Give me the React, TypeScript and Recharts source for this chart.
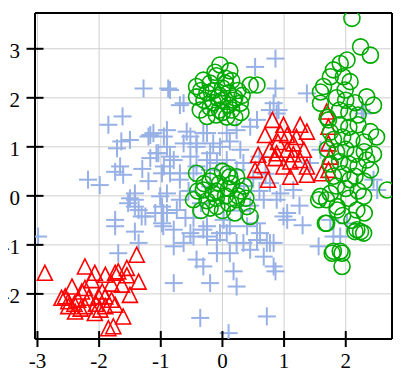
import React from 'react';
import { ScatterChart, Scatter, XAxis, YAxis, CartesianGrid, ReferenceLine } from 'recharts';

const xTicks = [-3, -2, -1, 0, 1, 2];
const yTicks = [-2, -1, 0, 1, 2, 3];
const xDomain: [number, number] = [-3.04, 2.75];
const yDomain: [number, number] = [-2.92, 3.73];

const bluePlus: [number, number][] = [
  [-1.85, 1.45], [-1.62, 1.62], [-1.64, 1.11], [-1.71, 0.97], [-1.66, 0.6], [-1.74, 0.49], [-1.61, 0.43],
  [-2.18, 0.33], [-1.99, 0.22], [-1.5, -0.05], [-1.42, -0.08], [-1.36, -0.29], [-1.2, 1.21], [-1.12, 1.28],
  [-1.17, 0.77], [-1.04, 0.87], [-0.98, 0.46], [-1.01, -0.01], [-0.98, -0.22], [-1.74, -0.49], [-1.31, -0.42],
  [-2.99, -0.83], [-1.53, -0.15], [-1.42, -0.22], [-1.25, -0.42], [-1.09, -0.35], [-1.74, -0.62], [-1.42, -0.73],
  [-1.69, -1.17], [-1.36, -0.96], [-0.98, -0.56], [-1.42, 0.05], [-0.96, -0.62], [-0.79, -1.03], [-0.63, -0.96],
  [-0.42, -1.3], [-0.31, -1.44], [-0.2, -1.78], [-0.79, -1.78], [0.18, -1.54], [0.23, -1.85], [-0.36, -2.49],
  [0.1, -2.8], [0.72, -2.46], [-0.52, -0.76], [-0.25, -0.83], [-0.04, -0.76], [-0.09, -1.17], [0.12, -1.17],
  [0.34, -0.96], [0.45, -1.1], [0.56, -0.9], [0.67, -1.24], [0.12, -0.62], [0.02, -0.49], [0.86, -1.54],
  [-0.9, -0.35], [-0.79, -0.69], [-0.47, -0.83], [-0.31, -0.69], [-0.09, -0.9], [0.07, -0.76], [0.23, -0.96],
  [0.61, -0.76], [0.77, -0.96], [0.56, -0.56], [0.4, -0.62], [-0.47, -0.45], [-0.25, -0.62],
  [0.99, -0.42], [1.05, -0.49], [0.72, -0.96], [0.83, -1.44], [1.56, -1.03], [1.91, -0.83], [1.75, -0.49],
  [0.67, -0.08], [0.88, -0.08], [2.51, 0.12], [-1.28, 2.19], [-0.88, 2.19], [-0.69, 1.85], [0.53, 2.63],
  [-1.17, 1.24], [-0.95, 1.21], [-0.52, 1.21], [-0.25, 1.28], [0.07, 1.28], [0.23, 1.34], [0.45, 1.41],
  [-1.07, 0.87], [-0.85, 0.8], [-0.2, 0.87], [-0.42, 1.0], [-0.04, 1.0], [-0.95, 0.6], [-0.69, 0.46],
  [-0.42, 0.6], [-0.09, 0.67], [-1.5, 1.14], [0.86, 2.8], [0.86, 2.19], [1.37, 2.09], [0.77, 1.75],
  [0.91, 1.75], [2.26, 1.75], [2.45, 0.33], [1.59, 0.94], [0.88, 1.68], [0.83, 1.89], [2.29, 1.68],
  [1.05, -0.35], [1.15, 0.12], [0.94, 0.05], [0.77, 0.26], [0.83, -0.96], [2.02, -0.56], [1.8, -0.83],
  [1.42, 0.67], [-0.85, 2.16], [-0.63, 1.89], [-0.9, 1.34], [-0.58, 1.31], [-0.31, 1.28], [-0.9, 1.0],
  [-0.63, 1.07], [-0.42, 1.07], [-0.15, 1.07], [0.12, 1.11], [0.29, 0.94], [-0.79, 0.73], [-0.52, 0.8],
  [-0.25, 0.73], [0.07, 0.73], [0.34, 0.67], [-0.85, 0.46], [-0.69, 0.33], [-0.47, 0.46], [-0.2, 0.53],
  [0.23, 0.53], [-0.9, 0.05], [-0.69, -0.08], [-0.2, 0.19], [-0.96, -0.35], [-0.74, -0.29], [0.56, 1.55],
  [0.5, 0.35], [0.6, 0.1], [0.45, -0.2], [0.7, 0.45], [0.35, 0.2], [-0.55, 0.1], [-0.35, -0.15],
  [0.3, -0.3], [-0.6, -0.45], [-1.2, 0.3], [-1.3, 0.55], [0.6, 0.8], [1.25, -0.2], [1.3, -0.6],
];

const redTriangle: [number, number][] = [
  [-2.88, -1.57], [-2.23, -1.44], [-1.39, -1.2], [-1.55, -1.47], [-1.36, -1.75], [-1.5, -2.02], [-2.07, -1.57],
  [-1.9, -1.61], [-1.74, -1.57], [-1.69, -1.54], [-1.8, -1.79], [-1.63, -1.81], [-2.44, -1.85], [-2.28, -1.95],
  [-2.23, -1.88], [-2.61, -2.08], [-2.5, -2.15], [-2.34, -2.12], [-2.17, -2.08], [-2.01, -2.05], [-1.9, -2.05],
  [-1.8, -2.12], [-2.5, -2.25], [-2.39, -2.36], [-2.23, -2.25], [-2.07, -2.39], [-1.9, -2.25], [-1.74, -2.22],
  [-1.61, -2.46], [-1.85, -2.7], [-1.77, -2.66], [-2.55, -2.05], [-2.4, -2.2], [-2.05, -2.2], [-1.95, -1.95],
  [-2.3, -2.3], [-1.98, -2.32], [-1.55, -1.62], [-2.12, -1.72],
  [1.69, 1.72], [1.72, 1.41], [1.26, 1.45], [1.37, 1.31], [0.94, 1.28], [1.05, 1.24], [1.15, 1.07],
  [1.32, 0.94], [1.05, 0.94], [0.88, 0.87], [1.72, 1.07], [1.1, 0.7], [1.26, 0.73], [1.37, 0.6],
  [0.99, 0.6], [1.1, 0.39], [1.37, 0.43], [1.61, 0.46], [1.72, 0.53], [0.69, 1.24], [0.77, 0.94],
  [0.58, 0.84], [0.53, 0.53], [0.64, 0.63], [0.86, 0.77], [0.99, 1.45], [0.81, 1.55], [0.74, 0.33],
  [1.2, 1.2], [0.9, 1.1], [1.15, 0.85], [1.75, 0.8],
];

const greenCircle: [number, number][] = [
  [-0.04, 2.67], [0.45, 2.26], [0.56, 2.26], [-0.31, 2.36], [-0.42, 2.23], [-0.42, 2.02], [-0.36, 1.75],
  [0.07, 1.61], [0.29, 1.89], [-0.2, 2.3], [-0.1, 2.45], [0.05, 2.4], [0.15, 2.35], [0.25, 2.15],
  [-0.25, 2.1], [-0.15, 2.15], [0.0, 2.2], [0.1, 2.1], [-0.05, 2.05], [0.2, 2.0], [-0.3, 1.95],
  [-0.15, 1.9], [0.0, 1.95], [0.1, 1.85], [-0.2, 1.8], [-0.05, 1.75], [0.15, 1.75], [0.3, 1.7],
  [-0.1, 1.65], [0.2, 1.6], [-0.25, 1.62], [-0.12, 2.52], [0.12, 2.55], [0.32, 2.05], [-0.35, 2.15],
  [0.05, 2.3], [-0.08, 2.0], [0.18, 1.95], [0.0, 1.7],
  [-0.42, 0.46], [0.12, 0.39], [0.23, 0.39], [-0.31, 0.12], [-0.47, -0.08], [-0.09, -0.22], [0.23, -0.08],
  [0.4, -0.22], [0.45, -0.42], [-0.2, 0.3], [0.0, 0.5], [0.15, 0.25], [-0.1, 0.1], [0.05, 0.0],
  [0.3, 0.1], [-0.25, -0.1], [-0.15, 0.05], [0.1, -0.15], [-0.35, -0.3], [0.0, -0.3], [0.2, -0.35],
  [-0.2, -0.25], [0.35, 0.2], [-0.05, 0.25], [0.1, 0.15], [-0.3, 0.25], [0.25, 0.0], [-0.1, -0.05],
  [0.08, 0.45], [-0.15, 0.4], [0.38, -0.05], [-0.4, 0.1],
  [2.1, 3.62], [2.24, 3.04], [2.4, 2.87], [2.02, 2.77], [1.91, 2.7], [1.8, 2.57], [1.75, 2.43],
  [1.96, 2.43], [1.64, 2.23], [1.59, 2.12], [2.07, 2.33], [1.99, 2.16], [2.45, 1.85], [2.34, 2.02],
  [1.59, 1.89], [1.72, 1.55], [2.4, 1.31], [2.34, 0.73], [2.4, 0.53], [2.67, 0.12], [2.07, 0.33],
  [1.59, -0.01], [1.69, -0.08], [1.86, -0.22], [2.18, -0.29], [1.69, -0.56], [2.18, -0.69], [2.29, -0.76],
  [1.8, -1.13], [1.94, -1.17], [1.94, -1.44], [1.78, -1.17], [1.91, -1.13], [1.67, -0.56], [2.15, -0.73],
  [2.24, -0.73], [2.29, -0.01], [1.86, -0.29], [1.56, -0.08],
  [1.85, 2.0], [2.0, 1.95], [2.15, 1.9], [1.9, 1.75], [2.05, 1.7], [2.2, 1.65], [1.75, 1.3],
  [1.9, 1.45], [2.05, 1.4], [2.2, 1.45], [1.8, 1.15], [1.95, 1.2], [2.1, 1.15], [2.3, 1.1],
  [1.7, 0.95], [1.85, 0.9], [2.0, 0.95], [2.15, 0.85], [2.3, 0.9], [1.75, 0.65], [1.9, 0.7],
  [2.05, 0.65], [2.2, 0.6], [1.8, 0.4], [1.95, 0.45], [2.15, 0.4], [2.3, 0.3], [1.85, 0.2],
  [2.0, 0.15], [2.2, 0.1], [1.75, 0.05], [2.05, -0.05], [1.95, -0.4], [2.1, -0.5], [1.7, 1.6],
  [2.5, 1.2], [2.45, 0.85], [2.3, -0.35],
];

const toPts = (arr: [number, number][]) => arr.map(([x, y]) => ({ x, y }));

const BLUE = '#97b1e6';
const RED = '#ff0000';
const GREEN = '#00aa00';
const FONT = 'Liberation Serif, serif';

const W = 407;
const H = 373;
const Y_AXIS_W = 35;
const X_AXIS_H = 34;
const MARGIN = { top: 13, right: 15, left: 0, bottom: 0 };
const PLOT_LEFT = MARGIN.left + Y_AXIS_W;
const PLOT_BOTTOM = H - MARGIN.bottom - X_AXIS_H;

const PlusShape = (p: any) => (
  <g>
    <line x1={p.cx - 9} y1={p.cy} x2={p.cx + 9} y2={p.cy} stroke={BLUE} strokeWidth={2} />
    <line x1={p.cx} y1={p.cy - 9} x2={p.cx} y2={p.cy + 9} stroke={BLUE} strokeWidth={2} />
  </g>
);

const TriShape = (p: any) => (
  <polygon
    points={`${p.cx},${p.cy - 7.5} ${p.cx - 7.5},${p.cy + 7.5} ${p.cx + 7.5},${p.cy + 7.5}`}
    fill="none"
    stroke={RED}
    strokeWidth={1.6}
  />
);

const CircleShape = (p: any) => (
  <circle cx={p.cx} cy={p.cy} r={8} fill="none" stroke={GREEN} strokeWidth={1.6} />
);

const XTick = (p: any) => (
  <g>
    <line x1={p.x} y1={PLOT_BOTTOM - 8} x2={p.x} y2={PLOT_BOTTOM + 8} stroke="#000" strokeWidth={2} />
    <text x={p.x} y={PLOT_BOTTOM + 29} textAnchor="middle" fontFamily={FONT} fontSize={21} fill="#000">
      {String(p.payload.value)}
    </text>
  </g>
);

const YTick = (p: any) => (
  <g>
    <line x1={PLOT_LEFT - 8.5} y1={p.y} x2={PLOT_LEFT + 8.5} y2={p.y} stroke="#000" strokeWidth={2} />
    <text x={PLOT_LEFT - 15} y={p.y + 9} textAnchor="end" fontFamily={FONT} fontSize={21} fill="#000">
      {String(p.payload.value)}
    </text>
  </g>
);

export default function App() {
  return (
    <div style={{ margin: '-8px 0 0 -8px', width: W, height: H }}>
      <ScatterChart width={W} height={H} margin={MARGIN}>
        <CartesianGrid stroke="#cfcfcf" strokeWidth={1} />
        <XAxis
          type="number"
          dataKey="x"
          domain={xDomain}
          ticks={xTicks}
          interval={0}
          allowDataOverflow
          height={X_AXIS_H}
          axisLine={{ stroke: '#000', strokeWidth: 2 }}
          tickLine={false}
          tick={<XTick />}
        />
        <YAxis
          type="number"
          dataKey="y"
          domain={yDomain}
          ticks={yTicks}
          interval={0}
          allowDataOverflow
          width={Y_AXIS_W}
          axisLine={{ stroke: '#000', strokeWidth: 2 }}
          tickLine={false}
          tick={<YTick />}
        />
        <ReferenceLine y={yDomain[1]} stroke="#000" strokeWidth={2} />
        <ReferenceLine x={xDomain[1]} stroke="#000" strokeWidth={2} />
        <Scatter data={toPts(bluePlus)} shape={PlusShape} isAnimationActive={false} />
        <Scatter data={toPts(redTriangle)} shape={TriShape} isAnimationActive={false} />
        <Scatter data={toPts(greenCircle)} shape={CircleShape} isAnimationActive={false} />
      </ScatterChart>
    </div>
  );
}
